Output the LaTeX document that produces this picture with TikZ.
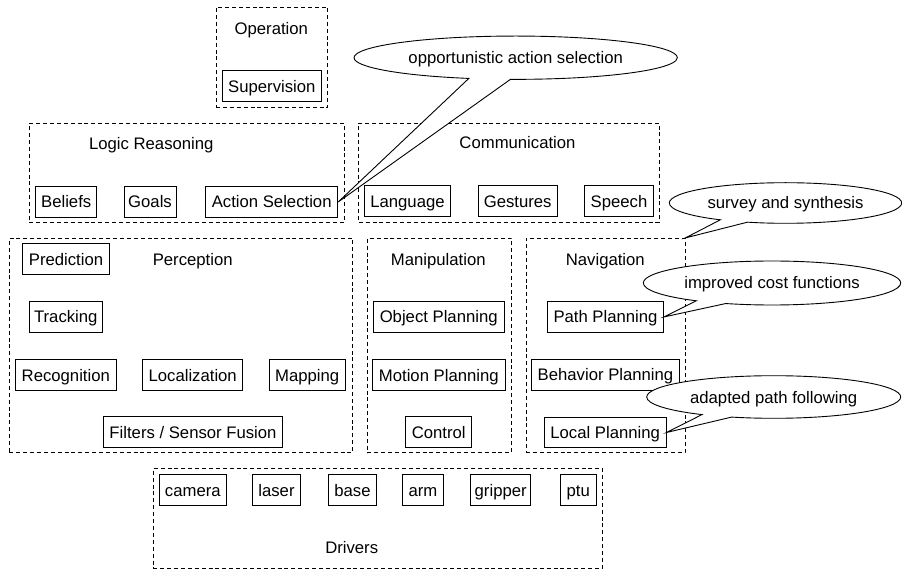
\documentclass[tikz,border=0pt]{standalone}
\usepackage{fontspec}
\setmainfont{Liberation Sans}
\usetikzlibrary{shapes.callouts}

\begin{document}
\begin{tikzpicture}[x=1pt, y=-1pt,
  every node/.style={font=\fontsize{16.7}{20}\selectfont, text height=12pt, text depth=0pt},
  group/.style={draw, dash pattern=on 4pt off 2.9pt, line width=0.75pt, inner sep=0pt},
  module/.style={draw, line width=0.9pt, inner xsep=0pt, minimum height=30.7pt},
  caption/.style={inner sep=0pt},
  remark/.style={ellipse callout, draw, fill=white, line width=0.9pt, inner sep=0pt, callout pointer arc=15}]
\useasboundingbox (0,0) rectangle (902,569);

% dashed subsystem frames
\node[group, minimum width=111.7pt, minimum height=100pt]   (operation)     at (271.85,57.3) {};
\node[group, minimum width=314.7pt, minimum height=99pt]    (logic)         at (186.65,172.8) {};
\node[group, minimum width=300.6pt, minimum height=99.3pt]  (communication) at (509,172.65) {};
\node[group, minimum width=343.4pt, minimum height=214.4pt] (perception)    at (181,345.5) {};
\node[group, minimum width=144.4pt, minimum height=214.4pt] (manipulation)  at (439.5,345.5) {};
\node[group, minimum width=159pt,   minimum height=214.4pt] (navigation)    at (605.5,345.5) {};
\node[group, minimum width=449pt,   minimum height=100pt]   (drivers)       at (377.8,518.3) {};

% frame titles
\node[caption] (operationT)     at (271.3,28.7)  {Operation};
\node[caption] (logicT)         at (151.3,143.8) {Logic Reasoning};
\node[caption] (communicationT) at (517.5,143)   {Communication};
\node[caption] (perceptionT)    at (192.7,259.3) {Perception};
\node[caption] (manipulationT)  at (438.3,260)   {Manipulation};
\node[caption] (navigationT)    at (605.3,259.5) {Navigation};
\node[caption] (driversT)       at (351.7,547.5) {Drivers};

% operation
\node[module, minimum width=99.7pt] (sup) at (271.85,86.2) {Supervision};

% logic reasoning
\node[module, minimum width=61pt]  (bel) at (66.2,202)  {Beliefs};
\node[module, minimum width=52pt]  (gol) at (150,202)   {Goals};
\node[module, minimum width=132pt] (as)  at (271.7,202) {Action Selection};

% communication
\node[module, minimum width=86.4pt] (lan) at (407.5,201.3) {Language};
\node[module, minimum width=79.3pt] (ges) at (517.7,201.3) {Gestures};
\node[module, minimum width=69.4pt] (spe) at (619,201.3)   {Speech};

% perception
\node[module, minimum width=86.6pt]  (pre) at (66,259.2)  {Prediction};
\node[module, minimum width=73pt]    (tra) at (65.8,317)  {Tracking};
\node[module, minimum width=100.3pt] (rec) at (65.8,375)  {Recognition};
\node[module, minimum width=100pt]   (loc) at (192.7,375) {Localization};
\node[module, minimum width=75.7pt]  (map) at (307.2,375) {Mapping};
\node[module, minimum width=179.4pt] (fil) at (193,432)   {Filters / Sensor Fusion};

% manipulation
\node[module, minimum width=130.7pt] (obj) at (438.7,316.8) {Object Planning};
\node[module, minimum width=132.3pt] (mot) at (438.8,375)   {Motion Planning};
\node[module, minimum width=66pt]    (con) at (438.7,432)   {Control};

% navigation
\node[module, minimum width=115.6pt] (pp) at (605.5,317)   {Path Planning};
\node[module, minimum width=147.6pt] (bp) at (605.5,374.7) {Behavior Planning};
\node[module, minimum width=121.7pt] (lp) at (605.2,432.5) {Local Planning};

% drivers
\node[module, minimum width=67.7pt] (cam) at (192.8,490) {camera};
\node[module, minimum width=48.4pt] (las) at (276.5,490) {laser};
\node[module, minimum width=48.4pt] (bas) at (352.5,490) {base};
\node[module, minimum width=40.6pt] (arm) at (423,490)   {arm};
\node[module, minimum width=60pt]   (gri) at (500.7,490) {gripper};
\node[module, minimum width=35.3pt] (ptu) at (578.3,490) {ptu};

% remarks
\node[remark, minimum width=323.3pt, minimum height=43.3pt, callout absolute pointer={(as.east)}]
  (r1) at (515.7,57.7) {opportunistic action selection};
\node[remark, minimum width=232.4pt, minimum height=40.6pt, callout absolute pointer={(navigation.north east)}]
  (r2) at (785.5,203) {survey and synthesis};
\node[remark, minimum width=257.4pt, minimum height=44pt, callout absolute pointer={(pp.east)}]
  (r3) at (772,283) {improved cost functions};
\node[remark, minimum width=254pt, minimum height=42.6pt, callout absolute pointer={(lp.east)}]
  (r4) at (773.7,397) {adapted path following};
\end{tikzpicture}
\end{document}
